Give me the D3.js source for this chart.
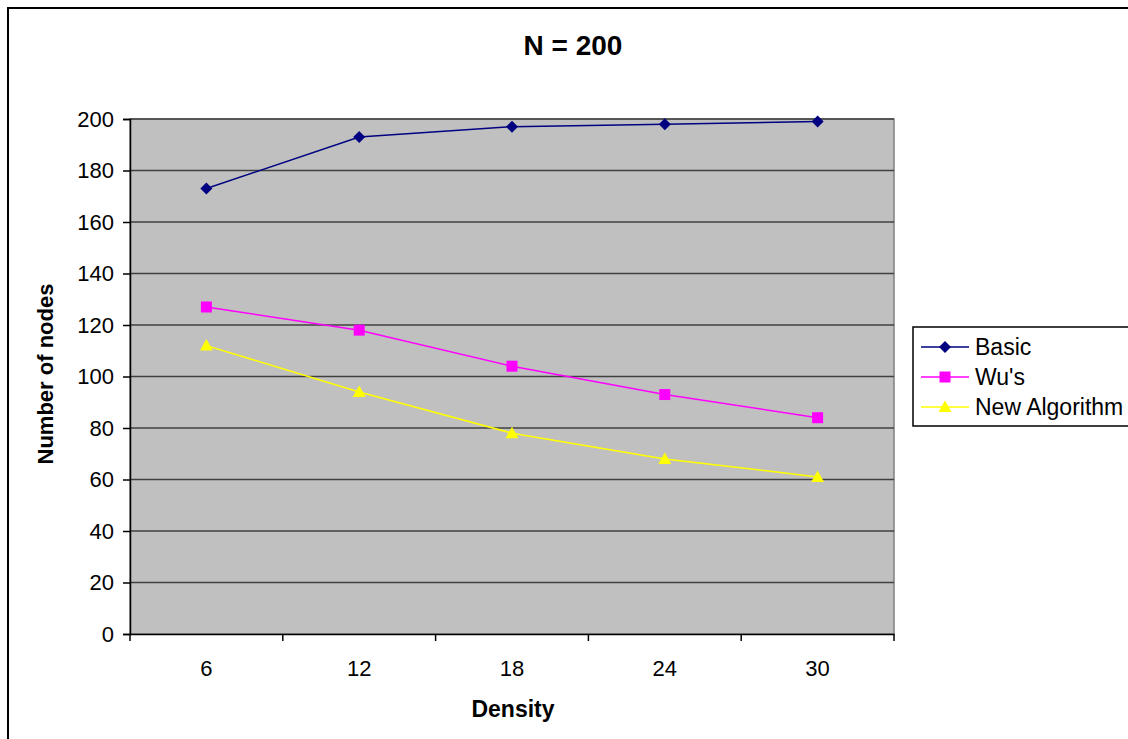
<!DOCTYPE html>
<html>
<head>
<meta charset="utf-8">
<script src="https://cdn.jsdelivr.net/npm/d3@7"></script>
<style>
  body { margin: 0; background: #fff; }
  text { font-family: "Liberation Sans", Arial, sans-serif; fill: #000; }
</style>
</head>
<body>
<svg id="chart"></svg>
<script>
var categories = ["6", "12", "18", "24", "30"];
var basic = [173, 193, 197, 198, 199];
var wus = [127, 118, 104, 93, 84];
var newAlgo = [112, 94, 78, 68, 61];
var yTicks = [0, 20, 40, 60, 80, 100, 120, 140, 160, 180, 200];

var series = [
  { name: "Basic", values: basic, color: "#000080", shape: "diamond" },
  { name: "Wu's", values: wus, color: "#ff00ff", shape: "square" },
  { name: "New Algorithm", values: newAlgo, color: "#ffff00", shape: "triangle" },
];

var dimensions = {
  width: 1128,
  height: 739,
  plot: { left: 130, top: 119, right: 894, bottom: 634 },
};

var svg = d3
  .select("#chart")
  .attr("width", dimensions.width)
  .attr("height", dimensions.height);

// outer frame (cropped at right and bottom)
svg
  .append("rect")
  .attr("x", 8)
  .attr("y", 8)
  .attr("width", 1300)
  .attr("height", 900)
  .attr("fill", "none")
  .attr("stroke", "#000")
  .attr("stroke-width", 2);

var xScale = d3
  .scaleBand()
  .domain(categories)
  .range([dimensions.plot.left, dimensions.plot.right]);

var yScale = d3
  .scaleLinear()
  .domain([0, 200])
  .range([dimensions.plot.bottom, dimensions.plot.top]);

// plot area
svg
  .append("rect")
  .attr("x", dimensions.plot.left)
  .attr("y", dimensions.plot.top)
  .attr("width", dimensions.plot.right - dimensions.plot.left)
  .attr("height", dimensions.plot.bottom - dimensions.plot.top)
  .attr("fill", "#c0c0c0")
  .attr("stroke", "#808080")
  .attr("stroke-width", 1.5);

// gridlines
svg
  .append("g")
  .selectAll("line")
  .data(yTicks.filter((d) => d > 0))
  .enter()
  .append("line")
  .attr("x1", dimensions.plot.left)
  .attr("x2", dimensions.plot.right)
  .attr("y1", (d) => yScale(d))
  .attr("y2", (d) => yScale(d))
  .attr("stroke", "#404040")
  .attr("stroke-width", 1.5);

// y axis
var yAxis = svg
  .append("g")
  .attr("transform", `translate(${dimensions.plot.left},0)`)
  .call(d3.axisLeft(yScale).tickValues(yTicks).tickSize(7).tickPadding(9));
yAxis.select(".domain").attr("stroke", "#000").attr("stroke-width", 1.5);
yAxis.selectAll(".tick line").attr("stroke", "#000").attr("stroke-width", 1.5);
yAxis
  .selectAll(".tick text")
  .style("font-size", "22px")
  .attr("fill", "#000");

// x axis, ticks sit between categories
var xAxis = svg
  .append("g")
  .attr("transform", `translate(0,${dimensions.plot.bottom})`)
  .call(d3.axisBottom(xScale).tickSize(0).tickPadding(26));
xAxis.select(".domain").attr("stroke", "#000").attr("stroke-width", 1.5);
xAxis
  .selectAll(".tick text")
  .style("font-size", "22px")
  .attr("fill", "#000");

var boundaries = categories.map((c) => xScale(c)).concat([dimensions.plot.right]);
xAxis
  .selectAll(".sep")
  .data(boundaries)
  .enter()
  .append("line")
  .attr("class", "sep")
  .attr("x1", (d) => d)
  .attr("x2", (d) => d)
  .attr("y1", 0)
  .attr("y2", 7)
  .attr("stroke", "#000")
  .attr("stroke-width", 1.5);

// title and axis labels
svg
  .append("text")
  .attr("x", 573)
  .attr("y", 55)
  .attr("text-anchor", "middle")
  .style("font-size", "28px")
  .style("font-weight", "bold")
  .text("N = 200");

svg
  .append("text")
  .attr("x", 513)
  .attr("y", 717)
  .attr("text-anchor", "middle")
  .style("font-size", "23px")
  .style("font-weight", "bold")
  .text("Density");

svg
  .append("text")
  .attr("transform", "translate(53,374) rotate(-90)")
  .attr("text-anchor", "middle")
  .style("font-size", "22px")
  .style("font-weight", "bold")
  .text("Number of nodes");

function drawMarker(g, shape, color) {
  if (shape === "diamond") {
    g.append("path").attr("d", "M0,-6L6,0L0,6L-6,0Z").attr("fill", color);
  } else if (shape === "square") {
    g.append("rect")
      .attr("x", -5.5)
      .attr("y", -5.5)
      .attr("width", 11)
      .attr("height", 11)
      .attr("fill", color);
  } else {
    g.append("path").attr("d", "M0,-6.5L6.5,5L-6.5,5Z").attr("fill", color);
  }
}

var line = d3
  .line()
  .x((d, i) => xScale(categories[i]) + xScale.bandwidth() / 2)
  .y((d) => yScale(d));

series.forEach(function (s) {
  svg
    .append("path")
    .datum(s.values)
    .attr("d", line)
    .attr("fill", "none")
    .attr("stroke", s.color)
    .attr("stroke-width", 1.5);

  s.values.forEach(function (v, i) {
    var g = svg
      .append("g")
      .attr(
        "transform",
        `translate(${xScale(categories[i]) + xScale.bandwidth() / 2},${yScale(v)})`
      );
    drawMarker(g, s.shape, s.color);
  });
});

// legend
var legend = svg.append("g").attr("transform", "translate(913,327)");
legend
  .append("rect")
  .attr("width", 260)
  .attr("height", 99)
  .attr("fill", "#fff")
  .attr("stroke", "#000")
  .attr("stroke-width", 1.5);

series.forEach(function (s, i) {
  var item = legend.append("g").attr("transform", `translate(0,${20 + i * 30})`);
  item
    .append("line")
    .attr("x1", 8)
    .attr("x2", 56)
    .attr("stroke", s.color)
    .attr("stroke-width", 1.5);
  var m = item.append("g").attr("transform", "translate(32,0)");
  drawMarker(m, s.shape, s.color);
  item
    .append("text")
    .attr("x", 62)
    .attr("y", 8)
    .style("font-size", "23px")
    .text(s.name);
});
</script>
</body>
</html>
